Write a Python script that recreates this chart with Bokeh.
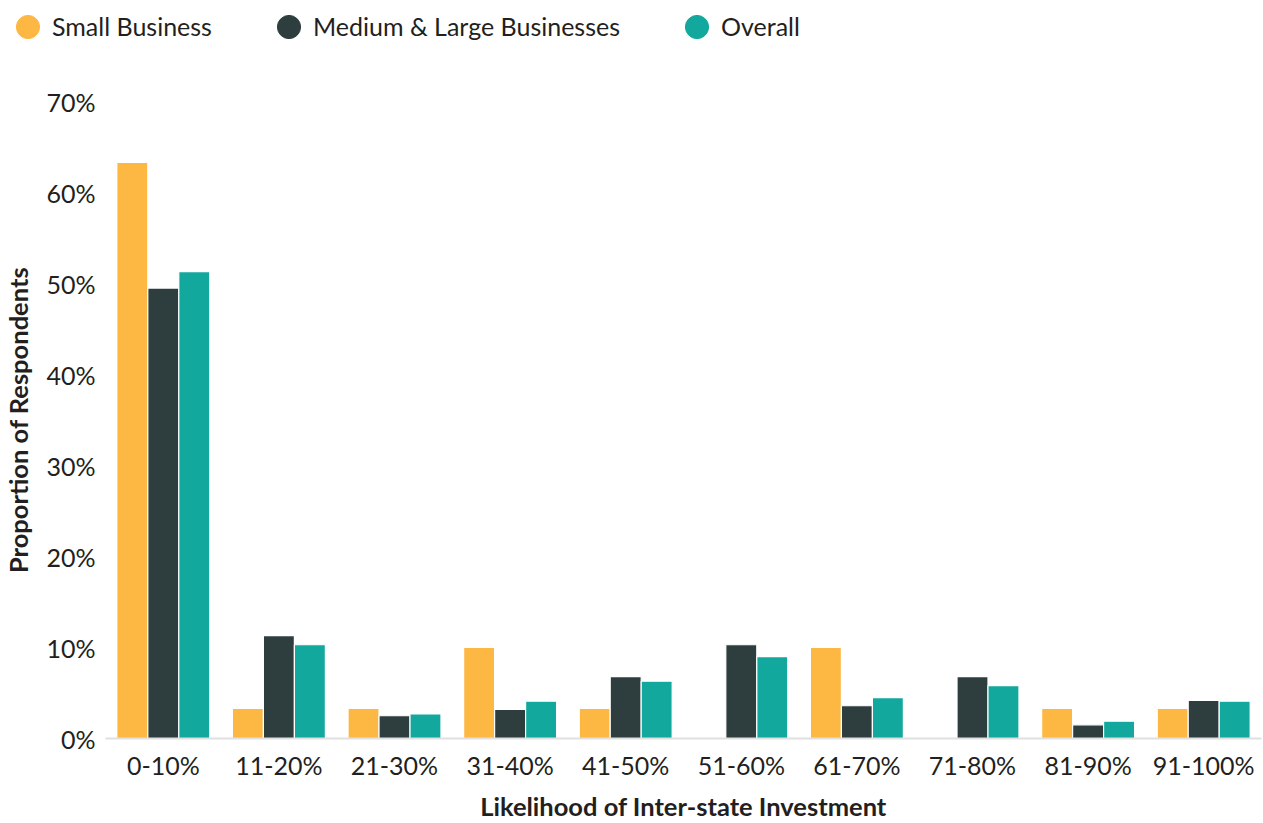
from bokeh.plotting import figure
from bokeh.models import ColumnDataSource, FixedTicker, NumeralTickFormatter, Legend, LegendItem, Range1d
from bokeh.layouts import column, row
from bokeh.transform import dodge
from bokeh.embed import file_html
from bokeh.resources import INLINE

categories = ["0-10%", "11-20%", "21-30%", "31-40%", "41-50%",
              "51-60%", "61-70%", "71-80%", "81-90%", "91-100%"]
small_business = [0.633, 0.033, 0.033, 0.100, 0.033, 0.0, 0.100, 0.0, 0.033, 0.033]
medium_large = [0.495, 0.113, 0.025, 0.032, 0.068, 0.103, 0.036, 0.068, 0.015, 0.042]
overall = [0.513, 0.103, 0.027, 0.041, 0.063, 0.090, 0.045, 0.058, 0.019, 0.041]
series_names = ["Small Business", "Medium & Large Businesses", "Overall"]
colors = ["#FDB844", "#2E3E3F", "#12A89D"]
y_ticks = [0, 0.1, 0.2, 0.3, 0.4, 0.5, 0.6, 0.7]

FONT = "Lato"
TXT = "#231F20"

src = ColumnDataSource(dict(cat=categories, s=small_business, m=medium_large, o=overall))

# ---- legend strip ----
lf = figure(width=1263, height=50, x_range=Range1d(0, 1), y_range=Range1d(0, 1),
            output_backend="svg", toolbar_location=None,
            min_border_left=0, min_border_right=0, min_border_top=0, min_border_bottom=0,
            x_axis_location=None, y_axis_location=None)
lf.outline_line_color = None
lf.xgrid.grid_line_color = None
lf.ygrid.grid_line_color = None
items = []
for name, c in zip(series_names, colors):
    # proxy shapes placed outside the visible range; only their legend glyphs show
    r = lf.ellipse(x=[-5], y=[-5], width=20, height=20, width_units="screen",
                   height_units="screen", fill_color=c, line_color=c)
    items.append(LegendItem(label=name, renderers=[r]))
legend = Legend(items=items, orientation="horizontal", location=(13, 9),
                label_text_font=FONT, label_text_font_size="25px", label_text_color=TXT,
                glyph_width=29, glyph_height=29, label_standoff=10, spacing=62,
                border_line_color=None, background_fill_alpha=0, padding=0, margin=0)
lf.add_layout(legend, "center")

# ---- main chart ----
p = figure(x_range=categories, y_range=(0, 0.7), width=1263, height=773,
           output_backend="svg", toolbar_location=None,
           min_border_left=105, min_border_right=2, min_border_top=51, min_border_bottom=85)
p.outline_line_color = None
p.xgrid.grid_line_color = None
p.ygrid.grid_line_color = None

w = 0.268
for col, off, c in zip(["s", "m", "o"], [-w, 0, w], colors):
    p.vbar(x=dodge("cat", off, range=p.x_range), top=col, width=w, source=src,
           fill_color=c, line_color="white", line_width=1.2)

xa = p.xaxis[0]
xa.axis_line_color = "#E0E0E0"
xa.axis_line_width = 2
xa.major_tick_line_color = None
xa.minor_tick_line_color = None
xa.major_label_text_font = FONT
xa.major_label_text_font_size = "25px"
xa.major_label_text_color = TXT
xa.major_label_standoff = 5
xa.axis_label = "Likelihood of Inter-state Investment"
xa.axis_label_text_font = FONT
xa.axis_label_text_font_size = "25.5px"
xa.axis_label_text_font_style = "bold"
xa.axis_label_text_color = TXT
xa.axis_label_standoff = 8

ya = p.yaxis[0]
ya.ticker = FixedTicker(ticks=y_ticks)
ya.formatter = NumeralTickFormatter(format="0%")
ya.axis_line_color = None
ya.major_tick_line_color = None
ya.minor_tick_line_color = None
ya.major_label_text_font = FONT
ya.major_label_text_font_size = "25px"
ya.major_label_text_color = TXT
ya.major_label_standoff = 4
ya.axis_label = "Proportion of Respondents"
ya.axis_label_text_font = FONT
ya.axis_label_text_font_size = "25.5px"
ya.axis_label_text_font_style = "bold"
ya.axis_label_text_color = TXT
ya.axis_label_standoff = 10

layout = column(row(lf), p, spacing=0)
open("out.html", "w").write(file_html(layout, INLINE))
